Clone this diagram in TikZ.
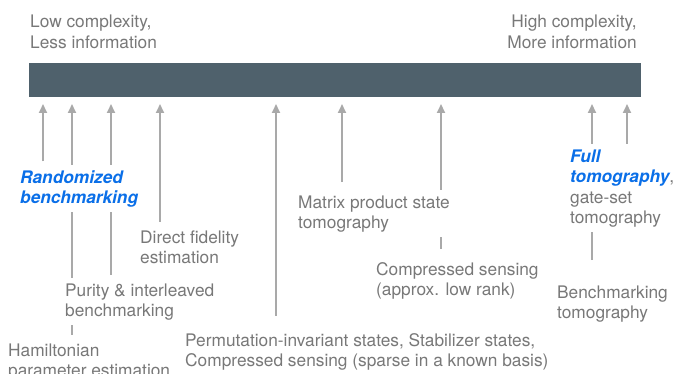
\documentclass[tikz,border=0pt]{standalone}
\usepackage{fontspec}
\setmainfont{TeX Gyre Heros}
\usepackage{tikz}
\usetikzlibrary{arrows.meta,backgrounds}

\definecolor{barcol}{HTML}{4F616C}
\definecolor{txtgray}{HTML}{787878}
\definecolor{arrgray}{HTML}{A9A9A9}
\definecolor{hlblue}{HTML}{0A6FE8}
\newcommand{\emphblue}[1]{\textcolor{hlblue}{\bfseries\itshape #1}}

\tikzset{
  lbl/.style={anchor=base west, align=left, fill=white, inner xsep=2pt,
    inner ysep=5pt, text=txtgray, font=\fontsize{17.3}{20.5}\selectfont},
  arr/.style={-{Triangle[length=9pt,width=8pt]}, arrgray, line width=2pt}
}

\begin{document}
\begin{tikzpicture}[x=1pt,y=-1pt]
  \useasboundingbox (0,0) rectangle (674,374);

  % complexity bar
  \fill[barcol] (29,63) rectangle (641,97);
  \node[lbl] (low) at (28,48.5) {Low complexity,\\Less information};
  \node[lbl, anchor=base east, align=right] (high) at (639,48.5) {High complexity,\\More information};

  % tips of the arrows below the bar
  \foreach \n/\x in {1/43,2/72,3/111,4/160,5/276,6/342,7/441,8/592,9/627}
    \coordinate (t\n) at (\x,104);

  % methods (placed at the baseline of their last line)
  \node[lbl] (rb) at (18,203.5) {\emphblue{Randomized}\\\emphblue{benchmarking}};
  \node[lbl] (dfe) at (138,263.5) {Direct fidelity\\estimation};
  \node[lbl] (pib) at (63,316.5) {Purity \& interleaved\\benchmarking};
  \node[lbl] (hpe) at (6,376.5) {Hamiltonian\\parameter estimation};
  \node[lbl] (perm) at (183,366.5) {Permutation-invariant states, Stabilizer states,\\Compressed sensing (sparse in a known basis)};
  \node[lbl] (mps) at (296,228.5) {Matrix product state\\tomography};
  \node[lbl] (cslr) at (374,295.5) {Compressed sensing\\(approx. low rank)};
  \node[lbl] (full) at (568,223.5) {\emphblue{Full}\\\emphblue{tomography},\\gate-set\\tomography};
  \node[lbl] (bmt) at (555,318.5) {Benchmarking\\tomography};

  % arrows run behind the labels
  \begin{scope}[on background layer]
    \draw[arr, shorten <=3.5pt] (t1 |- rb.north) -- (t1);
    \draw[arr, shorten <=3.5pt] (t2 |- hpe.north) -- (t2);
    \draw[arr, shorten <=3.5pt] (t3 |- pib.north) -- (t3);
    \draw[arr, shorten <=3.5pt] (t4 |- dfe.north) -- (t4);
    \draw[arr, shorten <=12pt] (t5 |- perm.north) -- (t5);
    \draw[arr, shorten <=8pt] (t6 |- mps.north) -- (t6);
    \draw[arr, shorten <=8pt] (t7 |- cslr.north) -- (t7);
    \draw[arr, shorten <=20pt] (t8 |- bmt.north) -- (t8);
    \draw[arr] (t9 |- full.north) -- (t9);
  \end{scope}
\end{tikzpicture}
\end{document}
